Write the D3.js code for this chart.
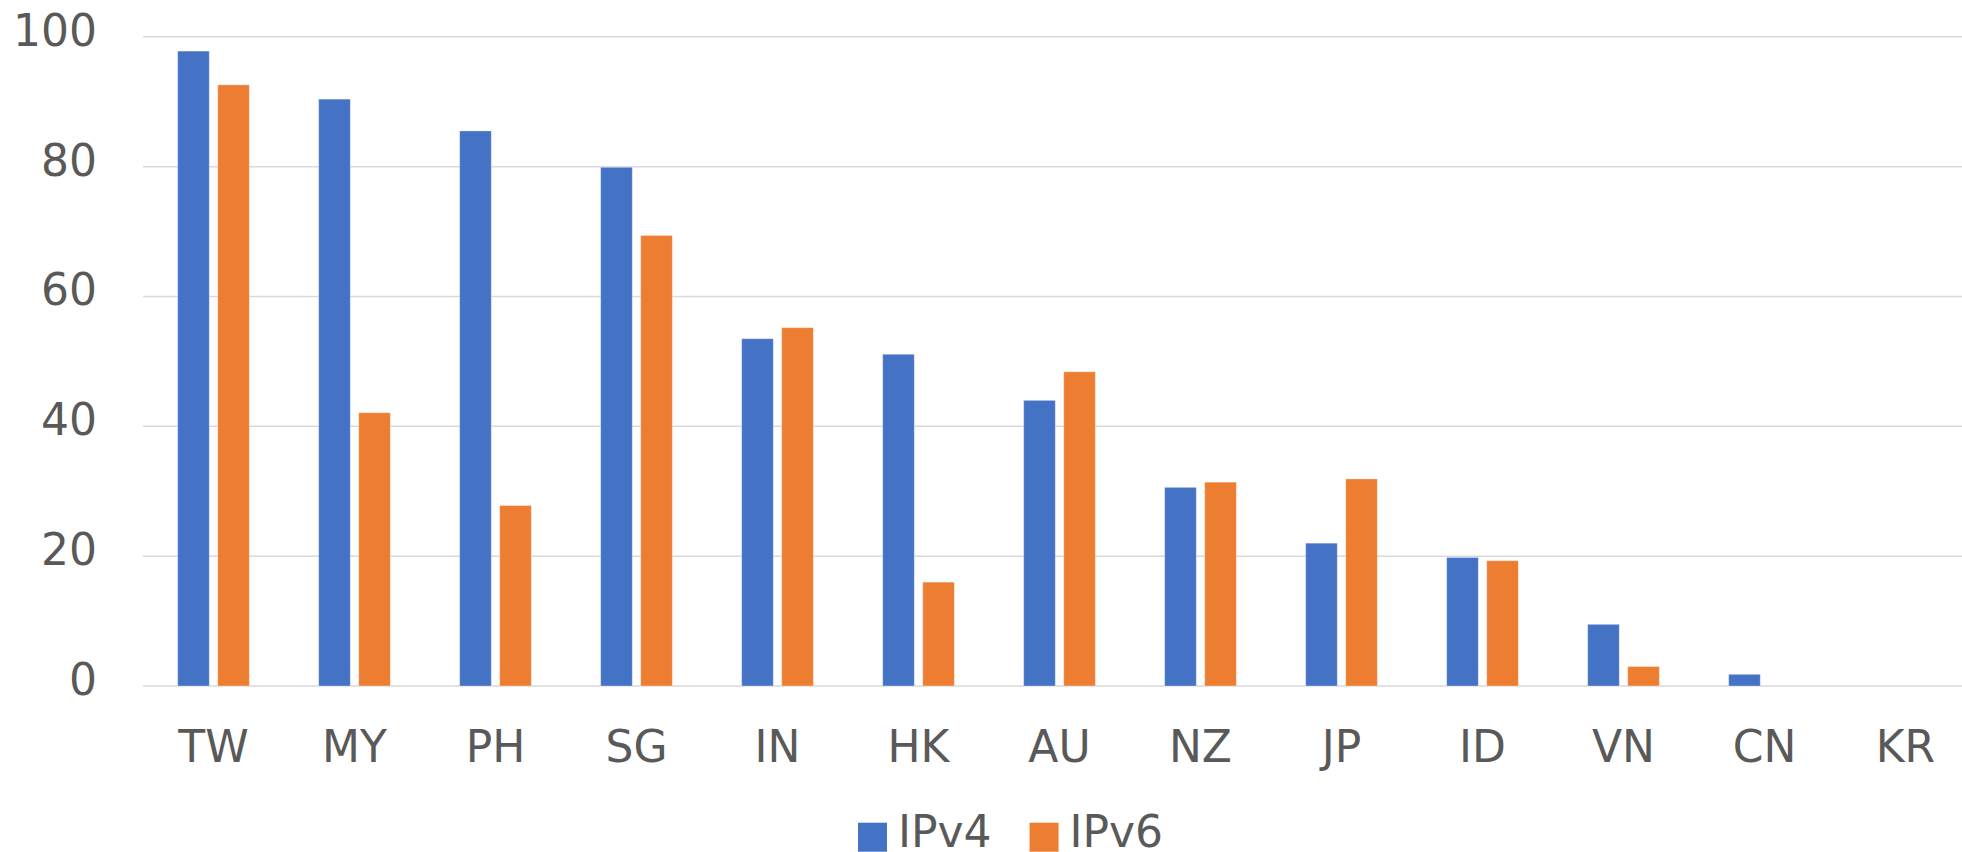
<!DOCTYPE html>
<html>
<head>
<meta charset="utf-8">
<script src="https://cdn.jsdelivr.net/npm/d3@7"></script>
<style>
  html, body { margin: 0; padding: 0; background: #ffffff; }
  svg { display: block; }
  text { font-family: "DejaVu Sans", Verdana, sans-serif; fill: #595959; }
</style>
</head>
<body>
<svg id="chart" width="1962" height="852"></svg>
<script>
// Countries along the x axis
const categories = ["TW", "MY", "PH", "SG", "IN", "HK", "AU", "NZ", "JP", "ID", "VN", "CN", "KR"];
// Series names and values (percent)
const seriesNames = ["IPv4", "IPv6"];
const ipv4Values = [97.8, 90.4, 85.5, 79.9, 53.5, 51.1, 44.0, 30.6, 22.0, 19.8, 9.5, 1.8, 0];
const ipv6Values = [92.6, 42.1, 27.8, 69.4, 55.2, 16.0, 48.4, 31.4, 31.9, 19.3, 3.0, 0, 0];
// Y axis ticks
const yTicks = [0, 20, 40, 60, 80, 100];

const seriesValues = [ipv4Values, ipv6Values];
const colors = { IPv4: "#4472C4", IPv6: "#ED7D31" };
const fontSize = 44;

const svg = d3.select("#chart");
const plotLeft = 143, plotRight = 1976, plotTop = 36.8, plotBottom = 686;

const x = d3.scaleBand()
  .domain(categories)
  .range([plotLeft, plotRight])
  .paddingInner(0.4915)
  .paddingOuter(0.2458);

const xs = d3.scaleBand()
  .domain(seriesNames)
  .range([0, x.bandwidth()])
  .paddingInner(0.21);

const y = d3.scaleLinear().domain([0, 100]).range([plotBottom, plotTop]);

// Horizontal gridlines (the zero line doubles as the baseline)
svg.append("g")
  .selectAll("line")
  .data(yTicks)
  .join("line")
  .attr("x1", plotLeft)
  .attr("x2", plotRight)
  .attr("y1", d => y(d))
  .attr("y2", d => y(d))
  .attr("stroke", "#D9D9D9")
  .attr("stroke-width", 1.5);

// Y tick labels
svg.append("g")
  .selectAll("text")
  .data(yTicks)
  .join("text")
  .attr("x", 97)
  .attr("y", d => y(d) + 9)
  .attr("text-anchor", "end")
  .attr("font-size", fontSize)
  .text(d => d);

// Bars
const rows = categories.map((c, i) => ({
  cat: c,
  values: seriesNames.map((s, k) => ({ series: s, value: seriesValues[k][i] }))
}));

svg.append("g")
  .selectAll("g")
  .data(rows)
  .join("g")
  .attr("transform", d => `translate(${x(d.cat)},0)`)
  .selectAll("rect")
  .data(d => d.values.filter(v => v.value > 0))
  .join("rect")
  .attr("x", d => xs(d.series))
  .attr("width", xs.bandwidth())
  .attr("y", d => y(d.value))
  .attr("height", d => y(0) - y(d.value))
  .attr("fill", d => colors[d.series])
  .attr("stroke", "#ffffff")
  .attr("stroke-opacity", 0.35)
  .attr("stroke-width", 1);

// Category labels
svg.append("g")
  .selectAll("text")
  .data(categories)
  .join("text")
  .attr("x", d => x(d) + x.bandwidth() / 2)
  .attr("y", 762)
  .attr("text-anchor", "middle")
  .attr("font-size", fontSize)
  .text(d => d);

// Legend
const legend = svg.append("g");
let lx = 858;
seriesNames.forEach(name => {
  legend.append("rect")
    .attr("x", lx)
    .attr("y", 822.7)
    .attr("width", 29)
    .attr("height", 29)
    .attr("fill", colors[name]);
  const t = legend.append("text")
    .attr("x", lx + 40)
    .attr("y", 846.5)
    .attr("font-size", fontSize)
    .text(name);
  lx = lx + 40 + t.node().getComputedTextLength() + 38;
});
</script>
</body>
</html>
